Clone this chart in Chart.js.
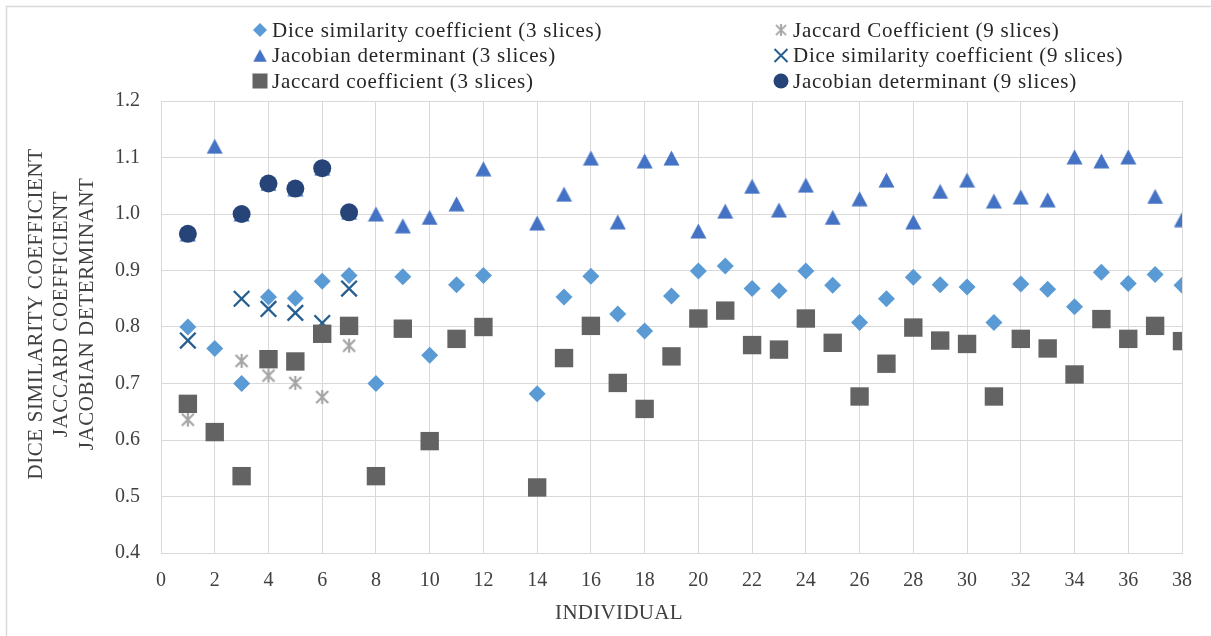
<!DOCTYPE html>
<html>
<head>
<meta charset="utf-8">
<script src="https://cdn.jsdelivr.net/npm/chart.js@4/dist/chart.umd.min.js"></script>
<style>
  html, body { margin: 0; padding: 0; background: #ffffff; }
  #wrap { position: relative; width: 1211px; height: 636px; }
  canvas { display: block; }
</style>
</head>
<body>
<div id="wrap"><canvas id="chart" width="1211" height="636"></canvas></div>
<script>
// Individuals measured with 3 slices (no record for individual 13)
const individuals3 = [1, 2, 3, 4, 5, 6, 7, 8, 9, 10, 11, 12, 14, 15, 16, 17, 18, 19, 20, 21, 22, 23, 24, 25, 26, 27, 28, 29, 30, 31, 32, 33, 34, 35, 36, 37, 38];
const dice3 = [0.800, 0.762, 0.700, 0.853, 0.851, 0.881, 0.891, 0.700, 0.889, 0.750, 0.875, 0.891, 0.682, 0.853, 0.890, 0.823, 0.793, 0.855, 0.899, 0.908, 0.868, 0.864, 0.899, 0.874, 0.808, 0.850, 0.888, 0.875, 0.871, 0.808, 0.876, 0.867, 0.836, 0.897, 0.877, 0.893, 0.874];
const jacobian3 = [0.965, 1.120, 1.000, 1.054, 1.045, 1.081, 1.003, 1.000, 0.979, 0.994, 1.018, 1.080, 0.984, 1.035, 1.099, 0.986, 1.094, 1.099, 0.970, 1.005, 1.049, 1.007, 1.051, 0.994, 1.027, 1.060, 0.986, 1.040, 1.060, 1.023, 1.030, 1.025, 1.101, 1.094, 1.101, 1.031, 0.990];
const jaccard3 = [0.664, 0.614, 0.536, 0.743, 0.739, 0.788, 0.802, 0.536, 0.797, 0.598, 0.779, 0.800, 0.516, 0.745, 0.802, 0.701, 0.655, 0.748, 0.815, 0.829, 0.768, 0.760, 0.815, 0.772, 0.677, 0.735, 0.799, 0.776, 0.770, 0.677, 0.779, 0.762, 0.716, 0.814, 0.779, 0.802, 0.775];

// Individuals measured with 9 slices
const individuals9 = [1, 3, 4, 5, 6, 7];
const jaccard9 = [0.636, 0.740, 0.714, 0.701, 0.676, 0.767];
const dice9 = [0.776, 0.850, 0.832, 0.825, 0.807, 0.868];
const jacobian9 = [0.965, 1.000, 1.054, 1.045, 1.081, 1.003];

// Axis ticks
const xTickValues = [0, 2, 4, 6, 8, 10, 12, 14, 16, 18, 20, 22, 24, 26, 28, 30, 32, 34, 36, 38];
const yTickValues = [0.4, 0.5, 0.6, 0.7, 0.8, 0.9, 1.0, 1.1, 1.2];

const xTitle = 'INDIVIDUAL';
const yTitleLines = ['DICE SIMILARITY COEFFICIENT', 'JACCARD COEFFICIENT', 'JACOBIAN DETERMINANT'];

const SERIF = '"Liberation Serif", "Times New Roman", serif';

function pairs(xs, ys) {
  return xs.map((x, i) => ({ x: x, y: ys[i] }));
}

// Triangle marker whose bounding box is centred on the point
function triangleMarker(w, h, color) {
  const c = document.createElement('canvas');
  c.width = w; c.height = h;
  const g = c.getContext('2d');
  g.fillStyle = color;
  g.beginPath();
  g.moveTo(w / 2, 0.5);
  g.lineTo(w - 0.5, h - 0.5);
  g.lineTo(0.5, h - 0.5);
  g.closePath();
  g.fill();
  return c;
}

// Asterisk marker: an X with a vertical bar through it
function asteriskMarker(s, color, lw) {
  const c = document.createElement('canvas');
  c.width = s; c.height = s;
  const g = c.getContext('2d');
  g.strokeStyle = color;
  g.lineWidth = lw;
  g.lineCap = 'butt';
  const m = s / 2, e = 2;
  g.beginPath();
  g.moveTo(m, 1); g.lineTo(m, s - 1);
  g.moveTo(e, e); g.lineTo(s - e, s - e);
  g.moveTo(s - e, e); g.lineTo(e, s - e);
  g.stroke();
  return c;
}

const COLORS = {
  dice3: '#5B9BD5',
  jaccard9: '#A5A5A5',
  jacobian3: '#4472C4',
  dice9: '#255E91',
  jaccard3: '#636363',
  jacobian9: '#264478'
};

const triImg = triangleMarker(17, 16, COLORS.jacobian3);
const starImg = asteriskMarker(16, COLORS.jaccard9, 2.2);

const datasets = [
  { label: 'Dice similarity coefficient (3 slices)', data: pairs(individuals3, dice3),
    pointStyle: 'rectRot', pointRadius: 8.5, backgroundColor: COLORS.dice3, borderColor: COLORS.dice3, pointBorderWidth: 0, order: 6 },
  { label: 'Jaccard Coefficient (9 slices)', data: pairs(individuals9, jaccard9),
    pointStyle: starImg, backgroundColor: COLORS.jaccard9, borderColor: COLORS.jaccard9, order: 5 },
  { label: 'Jacobian determinant (3 slices)', data: pairs(individuals3, jacobian3),
    pointStyle: triImg, backgroundColor: COLORS.jacobian3, borderColor: COLORS.jacobian3, order: 4 },
  { label: 'Dice similarity coefficient (9 slices)', data: pairs(individuals9, dice9),
    pointStyle: 'crossRot', pointRadius: 11, backgroundColor: COLORS.dice9, borderColor: COLORS.dice9, pointBorderWidth: 2.3, order: 3 },
  { label: 'Jaccard coefficient (3 slices)', data: pairs(individuals3, jaccard3),
    pointStyle: 'rect', pointRadius: 13, backgroundColor: COLORS.jaccard3, borderColor: COLORS.jaccard3, pointBorderWidth: 0, order: 2 },
  { label: 'Jacobian determinant (9 slices)', data: pairs(individuals9, jacobian9),
    pointStyle: 'circle', pointRadius: 9, backgroundColor: COLORS.jacobian9, borderColor: COLORS.jacobian9, pointBorderWidth: 0, order: 1 }
];

// Small legend marker shapes
function drawLegendMarker(ctx, ds, x, y) {
  const color = ds.backgroundColor;
  ctx.save();
  ctx.fillStyle = color;
  ctx.strokeStyle = color;
  const st = ds.pointStyle;
  if (st === 'rectRot') {
    const r = 7;
    ctx.beginPath();
    ctx.moveTo(x, y - r); ctx.lineTo(x + r, y); ctx.lineTo(x, y + r); ctx.lineTo(x - r, y);
    ctx.closePath(); ctx.fill();
  } else if (st === 'rect') {
    const h = 7.5;
    ctx.fillRect(x - h, y - h, 2 * h, 2 * h);
  } else if (st === 'circle') {
    ctx.beginPath(); ctx.arc(x, y, 7.5, 0, Math.PI * 2); ctx.fill();
  } else if (st === 'crossRot') {
    const h = 6.5;
    ctx.lineWidth = 2;
    ctx.beginPath();
    ctx.moveTo(x - h, y - h); ctx.lineTo(x + h, y + h);
    ctx.moveTo(x + h, y - h); ctx.lineTo(x - h, y + h);
    ctx.stroke();
  } else if (st instanceof HTMLCanvasElement) {
    const w = st.width * 0.85, hh = st.height * 0.85;
    ctx.drawImage(st, x - w / 2, y - hh / 2, w, hh);
  }
  ctx.restore();
}

const decorations = {
  id: 'decorations',
  beforeDraw(chart) {
    const ctx = chart.ctx;
    ctx.save();
    ctx.fillStyle = '#ffffff';
    ctx.fillRect(0, 0, chart.width, chart.height);
    ctx.strokeStyle = '#D9D9D9';
    ctx.lineWidth = 1.5;
    ctx.beginPath();
    ctx.moveTo(6.5, chart.height + 5);
    ctx.lineTo(6.5, 6.5);
    ctx.lineTo(chart.width + 5, 6.5);
    ctx.stroke();
    ctx.restore();
  },
  afterDraw(chart) {
    const ctx = chart.ctx;
    ctx.save();
    // Legend: two columns, three rows
    const colMarkerX = [260, 781];
    const rowY = [30, 55.5, 81];
    ctx.font = '21px ' + SERIF;
    ctx.letterSpacing = '0.75px';
    ctx.textBaseline = 'middle';
    ctx.textAlign = 'left';
    chart.data.datasets.forEach((ds, i) => {
      const col = i % 2, row = Math.floor(i / 2);
      const mx = colMarkerX[col], my = rowY[row];
      drawLegendMarker(ctx, ds, mx, my);
      ctx.fillStyle = '#262626';
      ctx.fillText(ds.label, mx + 12, my + 1);
    });

    // Axis titles
    ctx.fillStyle = '#404040';
    ctx.font = '21px ' + SERIF;
    ctx.textAlign = 'center';
    ctx.textBaseline = 'middle';
    ctx.letterSpacing = '0.3px';
    ctx.fillText(xTitle, 619, 613);
    ctx.letterSpacing = '0.6px';
    const lineX = [36, 61.5, 87];
    yTitleLines.forEach((t, i) => {
      ctx.save();
      ctx.translate(lineX[i], 314);
      ctx.rotate(-Math.PI / 2);
      ctx.fillText(t, 0, 0);
      ctx.restore();
    });
    ctx.restore();
  }
};

new Chart(document.getElementById('chart'), {
  type: 'scatter',
  data: { datasets: datasets },
  options: {
    responsive: false,
    animation: false,
    devicePixelRatio: 1,
    layout: { padding: { top: 101, right: 29, left: 0, bottom: 0 } },
    plugins: { legend: { display: false }, tooltip: { enabled: false } },
    scales: {
      x: {
        type: 'linear',
        min: 0, max: 38,
        afterBuildTicks: (s) => { s.ticks = xTickValues.map(v => ({ value: v })); },
        afterFit: (s) => { s.height = 83; },
        grid: { color: '#D9D9D9', lineWidth: 1, drawTicks: false },
        border: { color: '#D9D9D9', width: 1 },
        ticks: { color: '#404040', font: { family: SERIF, size: 20 }, padding: 16, autoSkip: false, maxRotation: 0,
                 callback: (v) => String(v) }
      },
      y: {
        type: 'linear',
        min: 0.4, max: 1.2,
        afterBuildTicks: (s) => { s.ticks = yTickValues.map(v => ({ value: v })); },
        afterFit: (s) => { s.width = 161; },
        grid: { color: '#D9D9D9', lineWidth: 1, drawTicks: false },
        border: { color: '#D9D9D9', width: 1 },
        ticks: { color: '#404040', font: { family: SERIF, size: 20 }, padding: 21,
                 callback: (v) => Number(v).toFixed(1) }
      }
    }
  },
  plugins: [decorations]
});
</script>
</body>
</html>
